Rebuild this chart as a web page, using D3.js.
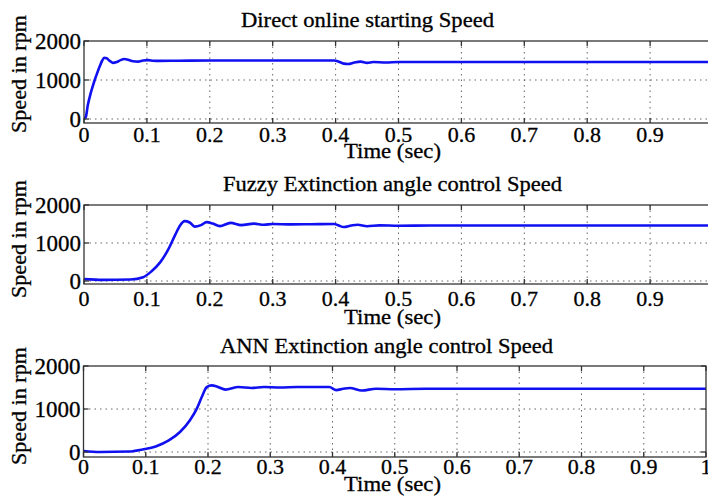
<!DOCTYPE html>
<html>
<head>
<meta charset="utf-8">
<script src="https://cdn.jsdelivr.net/npm/d3@7"></script>
<style>
  html, body { margin: 0; padding: 0; background: #fff; overflow: hidden; }
  svg { display: block; }
</style>
</head>
<body>
<svg id="chart" width="708" height="497"></svg>
<script>
// ---------- data ----------
const timeTicks = [0, 0.1, 0.2, 0.3, 0.4, 0.5, 0.6, 0.7, 0.8, 0.9, 1];
const timeTickLabels = ["0", "0.1", "0.2", "0.3", "0.4", "0.5", "0.6", "0.7", "0.8", "0.9", "1"];
const speedTicks = [0, 1000, 2000];
const speedTickLabels = ["0", "1000", "2000"];
const titles = ["Direct online starting Speed", "Fuzzy Extinction angle control Speed", "ANN Extinction angle control Speed"];
const xLabel = "Time (sec)";
const yLabel = "Speed in rpm";

const directTime  = [0, 0.003, 0.006, 0.010, 0.013, 0.017, 0.021, 0.025, 0.029, 0.032, 0.036, 0.040, 0.046, 0.052, 0.058, 0.064, 0.070, 0.078, 0.086, 0.094, 0.102, 0.110, 0.120, 0.150, 0.200, 0.250, 0.300, 0.350, 0.398, 0.405, 0.413, 0.420, 0.430, 0.440, 0.450, 0.460, 0.480, 0.500, 0.550, 1.0];
const directSpeed = [0, 60, 350, 620, 790, 1000, 1180, 1350, 1500, 1570, 1560, 1500, 1440, 1460, 1510, 1540, 1520, 1480, 1470, 1500, 1510, 1495, 1490, 1495, 1500, 1500, 1500, 1500, 1500, 1470, 1420, 1410, 1450, 1470, 1440, 1460, 1450, 1460, 1460, 1460];

const fuzzyTime  = [0, 0.030, 0.074, 0.094, 0.107, 0.121, 0.134, 0.145, 0.153, 0.160, 0.168, 0.176, 0.186, 0.195, 0.205, 0.216, 0.233, 0.250, 0.270, 0.286, 0.300, 0.330, 0.360, 0.398, 0.405, 0.413, 0.425, 0.435, 0.450, 0.470, 0.500, 0.550, 1.0];
const fuzzySpeed = [50, 30, 40, 100, 250, 490, 830, 1215, 1470, 1575, 1540, 1430, 1470, 1550, 1510, 1445, 1530, 1470, 1510, 1480, 1500, 1490, 1495, 1500, 1460, 1420, 1460, 1480, 1440, 1465, 1455, 1460, 1460];

const annTime  = [0, 0.026, 0.074, 0.095, 0.116, 0.137, 0.155, 0.171, 0.182, 0.190, 0.198, 0.206, 0.215, 0.228, 0.249, 0.270, 0.290, 0.316, 0.343, 0.395, 0.406, 0.417, 0.428, 0.447, 0.470, 0.500, 0.550, 1.0];
const annSpeed = [25, 0, 10, 60, 130, 270, 465, 740, 1010, 1280, 1510, 1550, 1520, 1450, 1510, 1490, 1510, 1500, 1510, 1510, 1440, 1470, 1490, 1430, 1470, 1460, 1470, 1470];

// ---------- layout (geometry only) ----------
const FONT = "'Times New Roman', 'Liberation Serif', 'DejaVu Serif', Times, serif";
const panels = [
  { t: directTime, v: directSpeed, title: titles[0],
    x0: 84, x1: 713, yTopPx: 41, yZeroPx: 119, yBottomPx: 123,
    titleX: 241, titleY: 27, titleLen: 253,
    tickBase: 142, xLabY: 158, yLabCY: 74 },
  { t: fuzzyTime, v: fuzzySpeed, title: titles[1],
    x0: 84, x1: 713, yTopPx: 205, yZeroPx: 281, yBottomPx: 284,
    titleX: 223, titleY: 191, titleLen: 339,
    tickBase: 306, xLabY: 324, yLabCY: 239 },
  { t: annTime, v: annSpeed, title: titles[2],
    x0: 83.5, x1: 706, yTopPx: 366, yZeroPx: 452, yBottomPx: 457,
    titleX: 220, titleY: 353, titleLen: 333,
    tickBase: 474, xLabY: 491, yLabCY: 406 }
];

const svg = d3.select("#chart");
const gridColor = "#666";
const boxColor = "#333";

panels.forEach((p, i) => {
  const x = d3.scaleLinear().domain([0, 1]).range([p.x0, p.x1]);
  const y = d3.scaleLinear().domain([0, 2000]).range([p.yZeroPx, p.yTopPx]);
  const g = svg.append("g").attr("font-family", FONT).attr("fill", "#000");

  const clipId = "clip" + i;
  svg.append("defs").append("clipPath").attr("id", clipId)
    .append("rect").attr("x", p.x0).attr("y", p.yTopPx)
    .attr("width", p.x1 - p.x0).attr("height", p.yBottomPx - p.yTopPx);

  // grid
  g.selectAll(".vgrid").data(timeTicks.slice(1, -1)).join("line")
    .attr("x1", d => x(d)).attr("x2", d => x(d))
    .attr("y1", p.yTopPx).attr("y2", p.yBottomPx)
    .attr("stroke", gridColor).attr("stroke-width", 1)
    .attr("stroke-dasharray", "1.5,4");
  g.selectAll(".hgrid").data(speedTicks.filter(d => d < 2000)).join("line")
    .attr("x1", p.x0).attr("x2", p.x1)
    .attr("y1", d => y(d)).attr("y2", d => y(d))
    .attr("stroke", gridColor).attr("stroke-width", 1)
    .attr("stroke-dasharray", "1.5,4");

  // data line
  const line = d3.line().x((d, k) => x(p.t[k])).y(d => y(d)).curve(d3.curveMonotoneX);
  g.append("path").datum(p.v)
    .attr("clip-path", `url(#${clipId})`)
    .attr("d", line)
    .attr("fill", "none").attr("stroke", "#1010f0").attr("stroke-width", 2.6)
    .attr("stroke-linejoin", "round");

  // box
  g.append("rect").attr("x", p.x0).attr("y", p.yTopPx)
    .attr("width", p.x1 - p.x0).attr("height", p.yBottomPx - p.yTopPx)
    .attr("fill", "none").attr("stroke", boxColor).attr("stroke-width", 1.3);

  // tick marks (inside)
  const tl = 5;
  timeTicks.forEach(d => {
    g.append("line").attr("x1", x(d)).attr("x2", x(d))
      .attr("y1", p.yBottomPx).attr("y2", p.yBottomPx - tl)
      .attr("stroke", boxColor).attr("stroke-width", 1.3);
    g.append("line").attr("x1", x(d)).attr("x2", x(d))
      .attr("y1", p.yTopPx).attr("y2", p.yTopPx + tl)
      .attr("stroke", boxColor).attr("stroke-width", 1.3);
  });
  speedTicks.forEach(d => {
    g.append("line").attr("x1", p.x0).attr("x2", p.x0 + tl)
      .attr("y1", y(d)).attr("y2", y(d))
      .attr("stroke", boxColor).attr("stroke-width", 1.3);
    g.append("line").attr("x1", p.x1).attr("x2", p.x1 - tl)
      .attr("y1", y(d)).attr("y2", y(d))
      .attr("stroke", boxColor).attr("stroke-width", 1.3);
  });

  const txt = sel => sel.attr("stroke", "#000").attr("stroke-width", 0.3);

  // x tick labels
  g.selectAll(".xtl").data(timeTicks).join("text")
    .attr("x", d => x(d)).attr("y", p.tickBase)
    .attr("text-anchor", "middle").attr("font-size", 22)
    .text((d, k) => timeTickLabels[k]).call(txt);

  // y tick labels
  g.selectAll(".ytl").data(speedTicks).join("text")
    .attr("x", p.x0 - 3).attr("y", d => y(d))
    .attr("dy", "0.34em")
    .attr("text-anchor", "end").attr("font-size", 23)
    .text((d, k) => speedTickLabels[k]).call(txt);

  // title
  g.append("text").attr("x", p.titleX).attr("y", p.titleY)
    .attr("font-size", 20)
    .attr("textLength", p.titleLen).attr("lengthAdjust", "spacingAndGlyphs")
    .text(p.title).call(txt);

  // x label
  g.append("text").attr("x", 344).attr("y", p.xLabY)
    .attr("font-size", 20)
    .attr("textLength", 97).attr("lengthAdjust", "spacingAndGlyphs")
    .text(xLabel).call(txt);

  // y label
  g.append("text")
    .attr("transform", `translate(26,${p.yLabCY}) rotate(-90)`)
    .attr("text-anchor", "middle").attr("font-size", 21)
    .attr("textLength", 118).attr("lengthAdjust", "spacingAndGlyphs")
    .text(yLabel).call(txt);
});
</script>
</body>
</html>
